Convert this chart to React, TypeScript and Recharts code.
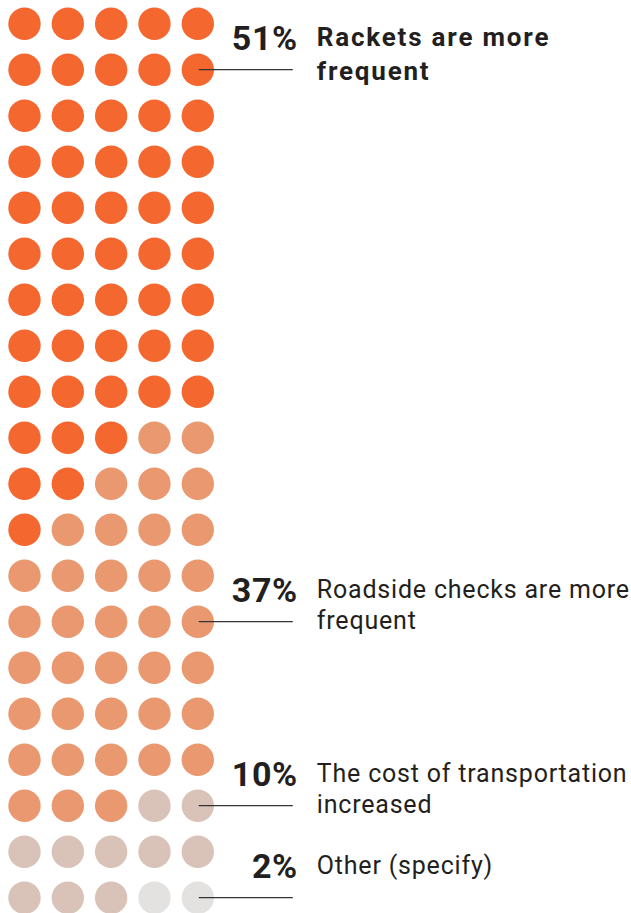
import React from 'react';
import { ScatterChart, Scatter, XAxis, YAxis } from 'recharts';

// Category data
const categories = [
  'Rackets are more frequent',
  'Roadside checks are more frequent',
  'The cost of transportation increased',
  'Other (specify)',
];
const percentages = [51, 37, 10, 2];
const labelLines = [
  ['Rackets are more', 'frequent'],
  ['Roadside checks are more', 'frequent'],
  ['The cost of transportation', 'increased'],
  ['Other (specify)'],
];
const labelRows = [1, 13, 17, 19];
const colors = ['#F4672F', '#EA9870', '#D9C2B7', '#E3E2E0'];

// Dot grid (5 columns x 20 rows), each digit = category index of that dot
const dotRows = [
  '00000', '00000', '00000', '00000', '00000',
  '00000', '00000', '00000', '00000', '00011',
  '00111', '01111', '11111', '11111', '11111',
  '11111', '11111', '11122', '22222', '22233',
];

const FONT = 'Roboto, "Noto Sans", sans-serif';

const seriesData = categories.map((_, ci) => {
  const pts: { col: number; row: number }[] = [];
  dotRows.forEach((r, ri) => {
    r.split('').forEach((ch, c) => {
      if (Number(ch) === ci) pts.push({ col: c, row: ri });
    });
  });
  return pts;
});

const annotations = categories.map((name, i) => ({
  col: 4,
  row: labelRows[i],
  pct: percentages[i],
  lines: labelLines[i],
  bold: i === 0,
  name,
}));

const Dot = (color: string) => (props: any) => {
  const { cx, cy } = props;
  return <circle cx={cx} cy={cy} r={16.2} fill={color} />;
};

const Callout = (props: any) => {
  const { cx, cy, payload } = props;
  const lh = payload.bold ? 34 : 31;
  return (
    <g>
      <line x1={cx + 1} y1={cy} x2={cx + 95} y2={cy} stroke="#333" strokeWidth={1.3} />
      <text
        x={cx + 100}
        y={cy - 20}
        textAnchor="end"
        fontFamily={FONT}
        fontWeight={700}
        fontSize={34}
        letterSpacing={0.6}
        fill="#231F20"
      >
        {payload.pct}%
      </text>
      {payload.lines.map((t: string, k: number) => (
        <text
          key={k}
          x={cx + 119}
          y={cy - 24 + k * lh}
          fontFamily={FONT}
          fontWeight={payload.bold ? 700 : 400}
          fontSize={payload.bold ? 26 : 25}
          letterSpacing={payload.bold ? 1.8 : 0.8}
          fill="#231F20"
        >
          {t}
        </text>
      ))}
    </g>
  );
};

export default function App() {
  return (
    <div style={{ position: 'absolute', left: 0, top: 0, background: '#fff' }}>
      <ScatterChart
        width={631}
        height={913}
        margin={{ top: 23.7, bottom: 15.3, left: 24.5, right: 433.2 }}
      >
        <XAxis type="number" dataKey="col" domain={[0, 4]} hide />
        <YAxis type="number" dataKey="row" domain={[0, 19]} reversed hide />
        {seriesData.map((d, i) => (
          <Scatter
            key={categories[i]}
            name={categories[i]}
            data={d}
            fill={colors[i]}
            shape={Dot(colors[i])}
            isAnimationActive={false}
          />
        ))}
        <Scatter
          name="callouts"
          data={annotations}
          shape={Callout}
          isAnimationActive={false}
        />
      </ScatterChart>
    </div>
  );
}
